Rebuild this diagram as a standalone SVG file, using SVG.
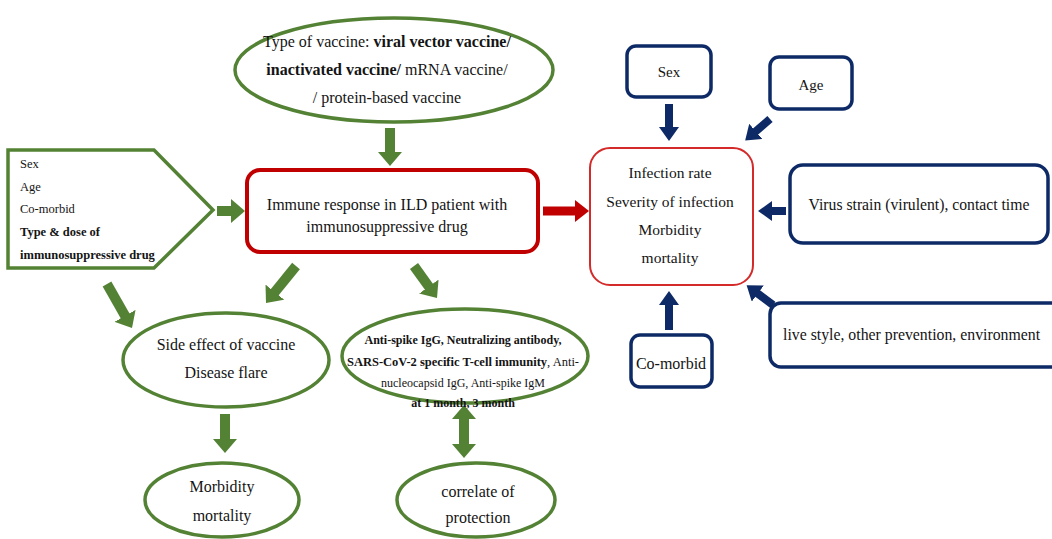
<svg xmlns="http://www.w3.org/2000/svg" width="1052" height="539" viewBox="0 0 1052 539">
<defs>
<style>
text{font-family:"Liberation Serif","Times New Roman",serif;fill:#141414}
.g{fill:none;stroke:#548235;stroke-width:3.5}
.gl{stroke:#548235;stroke-width:10;fill:none}
.nl{stroke:#0d2a66;stroke-width:8;fill:none}
.rl{stroke:#c00000;stroke-width:9;fill:none}
.nb{fill:#fff;stroke:#0d2a66;stroke-width:3.5}
.b{font-weight:bold}
</style>
<marker id="ag" markerUnits="userSpaceOnUse" markerWidth="14" markerHeight="24" viewBox="0 0 14 24" refX="1" refY="12" orient="auto-start-reverse"><path d="M0,0 L14,12 L0,24 z" fill="#548235"/></marker>
<marker id="an" markerUnits="userSpaceOnUse" markerWidth="14" markerHeight="20" viewBox="0 0 14 20" refX="1" refY="10" orient="auto"><path d="M0,0 L14,10 L0,20 z" fill="#0d2a66"/></marker>
<marker id="ar" markerUnits="userSpaceOnUse" markerWidth="14" markerHeight="22" viewBox="0 0 14 22" refX="1" refY="11" orient="auto"><path d="M0,0 L14,11 L0,22 z" fill="#c00000"/></marker>
</defs>
<rect width="1052" height="539" fill="#fff"/>

<g id="connectors">
<line class="gl" x1="390" y1="128" x2="390" y2="153" marker-end="url(#ag)"/>
<line class="gl" x1="217" y1="211" x2="232" y2="211" marker-end="url(#ag)"/>
<line class="rl" x1="543" y1="211" x2="576" y2="211" marker-end="url(#ar)"/>
<line class="nl" x1="669" y1="104" x2="669" y2="128" marker-end="url(#an)"/>
<line class="nl" x1="770" y1="119" x2="755" y2="132" marker-end="url(#an)"/>
<line class="nl" x1="786" y1="211" x2="771" y2="211" marker-end="url(#an)"/>
<line class="nl" x1="773" y1="305" x2="757" y2="293" marker-end="url(#an)"/>
<line class="nl" x1="669" y1="330" x2="669" y2="304" marker-end="url(#an)"/>
<line class="gl" x1="107" y1="284" x2="125.6" y2="316.7" marker-end="url(#ag)"/>
<line class="gl" x1="296" y1="266" x2="274.2" y2="292.9" marker-end="url(#ag)"/>
<line class="gl" x1="414" y1="266" x2="429.4" y2="287.4" marker-end="url(#ag)"/>
<line class="gl" x1="225" y1="414" x2="225" y2="440" marker-end="url(#ag)"/>
<line class="gl" x1="464" y1="418" x2="464" y2="445" marker-start="url(#ag)" marker-end="url(#ag)"/>
</g>

<g id="vaccine-type">
<ellipse class="g" cx="394" cy="70" rx="159" ry="52"/>
<text x="387" y="47" font-size="16" text-anchor="middle">Type of vaccine: <tspan class="b">viral vector vaccine/</tspan></text>
<text x="387" y="75" font-size="16" text-anchor="middle"><tspan class="b">inactivated vaccine/</tspan> mRNA vaccine/</text>
<text x="387" y="103" font-size="16" text-anchor="middle">/ protein-based vaccine</text>
</g>

<g id="patient-factors">
<polygon class="g" points="8,150 154,150 213,210 154,268 8,268"/>
<text x="20" y="168" font-size="12.5">Sex</text>
<text x="20" y="191" font-size="12.5">Age</text>
<text x="20" y="213" font-size="12.5">Co-morbid</text>
<text x="20" y="236" font-size="12.5" class="b">Type &amp; dose of</text>
<text x="20" y="259" font-size="12.5" class="b">immunosuppressive drug</text>
</g>

<g id="immune-response">
<rect x="247" y="170" width="291" height="82" rx="13" fill="#fff" stroke="#c00000" stroke-width="4"/>
<text x="387" y="210" font-size="16" text-anchor="middle">Immune response in ILD patient with</text>
<text x="387" y="232" font-size="16" text-anchor="middle">immunosuppressive drug</text>
</g>

<g id="infection-outcome">
<rect x="590" y="148" width="163" height="137" rx="20" fill="#fff" stroke="#d42a2a" stroke-width="2"/>
<text x="670" y="178" font-size="15.5" text-anchor="middle">Infection rate</text>
<text x="670" y="207" font-size="15.5" text-anchor="middle">Severity of infection</text>
<text x="670" y="235" font-size="15.5" text-anchor="middle">Morbidity</text>
<text x="670" y="263" font-size="15.5" text-anchor="middle">mortality</text>
</g>

<g id="sex">
<rect class="nb" x="627" y="46" width="84" height="51" rx="9"/>
<text x="669" y="77" font-size="15" text-anchor="middle">Sex</text>
</g>

<g id="age">
<rect class="nb" x="770" y="57" width="82" height="52" rx="9"/>
<text x="811" y="90" font-size="15" text-anchor="middle">Age</text>
</g>

<g id="virus">
<rect class="nb" x="790" y="165" width="258" height="78" rx="13"/>
<text x="919" y="210" font-size="15.7" text-anchor="middle">Virus strain (virulent), contact time</text>
</g>

<g id="lifestyle">
<rect class="nb" x="770" y="303" width="300" height="64" rx="11"/>
<text x="783" y="340" font-size="15.8">live style, other prevention, environment</text>
</g>

<g id="comorbid">
<rect class="nb" x="631" y="335" width="81" height="52" rx="9"/>
<text x="671" y="369" font-size="16" text-anchor="middle">Co-morbid</text>
</g>

<g id="side-effect">
<ellipse class="g" cx="226" cy="360" rx="103" ry="47"/>
<text x="226" y="350" font-size="16" text-anchor="middle">Side effect of vaccine</text>
<text x="226" y="378" font-size="16" text-anchor="middle">Disease flare</text>
</g>

<g id="antibody">
<ellipse class="g" cx="465" cy="356" rx="123" ry="47"/>
<text x="463" y="344" font-size="12" text-anchor="middle" class="b">Anti-spike IgG, Neutralizing antibody,</text>
<text x="463" y="366" font-size="12.5" text-anchor="middle"><tspan class="b">SARS-CoV-2 specific T-cell immunity</tspan>, Anti-</text>
<text x="463" y="387" font-size="12" text-anchor="middle">nucleocapsid IgG, Anti-spike IgM</text>
<text x="463" y="407" font-size="12" text-anchor="middle" class="b">at 1 month, 3 month</text>
</g>

<g id="morbidity">
<ellipse class="g" cx="222" cy="500" rx="77" ry="37"/>
<text x="222" y="492" font-size="16" text-anchor="middle">Morbidity</text>
<text x="222" y="521" font-size="16" text-anchor="middle">mortality</text>
</g>

<g id="correlate">
<ellipse class="g" cx="476" cy="500" rx="79" ry="37"/>
<text x="478" y="497" font-size="16" text-anchor="middle">correlate of</text>
<text x="478" y="523" font-size="16" text-anchor="middle">protection</text>
</g>
</svg>
